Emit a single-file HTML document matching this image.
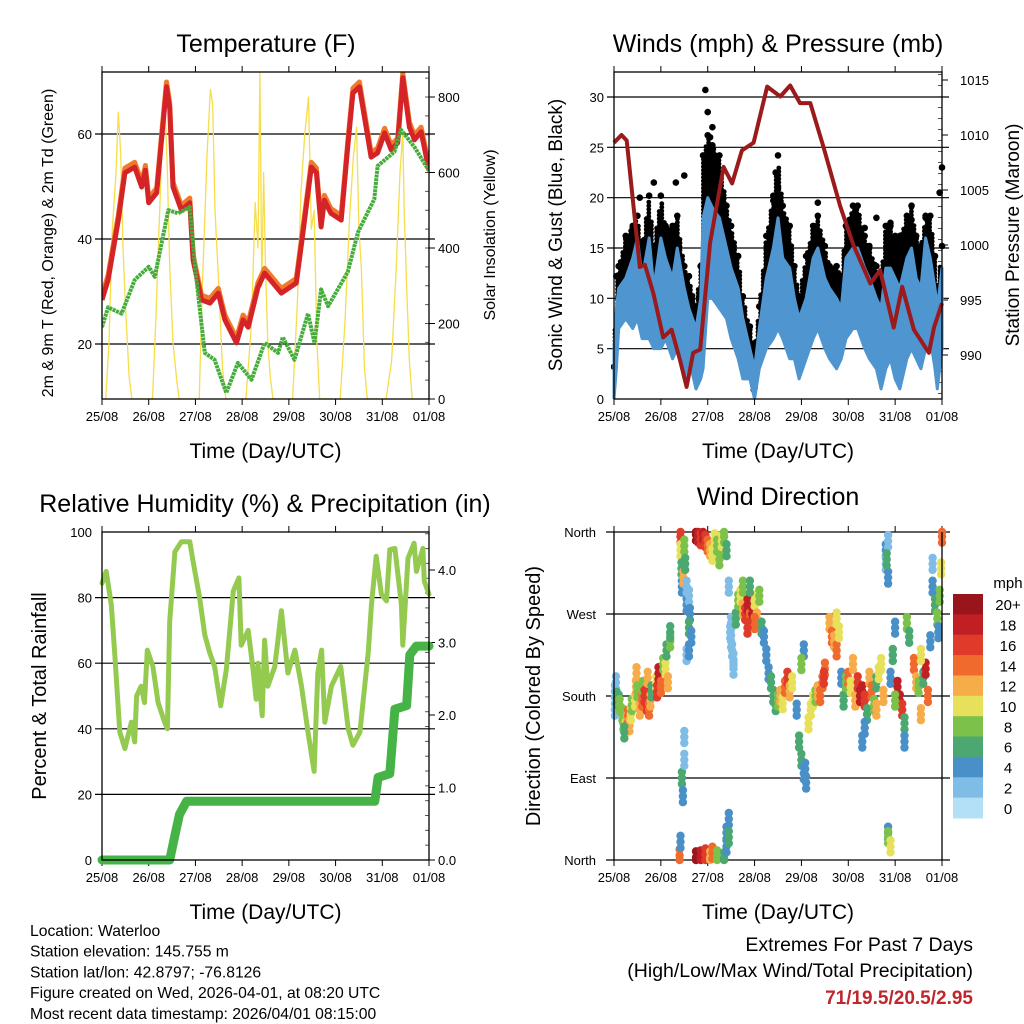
<!DOCTYPE html>
<html><head><meta charset="utf-8"><style>
html,body{margin:0;padding:0;background:#fff;}
svg{display:block;font-family:"Liberation Sans",Arial,sans-serif;}
</style></head><body>
<svg id="c" width="1024" height="1024" viewBox="0 0 1024 1024" xmlns="http://www.w3.org/2000/svg">
<rect width="1024" height="1024" fill="#fff"/>
</svg>
<script>
// ---------- data ----------
const dayLabels=['25/08','26/08','27/08','28/08','29/08','30/08','31/08','01/08'];
const tempT=[0,0.13,0.35,0.49,0.7,0.85,0.93,1.0,1.17,1.28,1.38,1.45,1.52,1.7,1.88,1.95,2.13,2.31,2.49,2.63,2.88,3.02,3.13,3.34,3.48,3.84,4.16,4.3,4.48,4.59,4.69,4.76,4.9,5.12,5.26,5.37,5.51,5.76,5.9,6.05,6.19,6.33,6.44,6.58,6.69,6.83,7.0];
const tempRed=[28.4,32.2,43.6,52.6,53.7,49.9,53.1,46.9,48.8,59.4,69,65,49.9,45.5,46.9,36,28.4,27.8,29.7,24.6,20.2,24.6,23.2,30.8,33.5,29.7,31.6,41.1,53.7,52.6,42.3,47.4,44.9,43.6,57.5,67.8,69,55.6,56.4,60.2,57,58.3,70.7,61.3,58.9,60.4,53.1];
const dewT=[0,0.13,0.42,0.7,1.0,1.13,1.42,1.63,1.88,1.99,2.2,2.41,2.66,2.91,3.2,3.48,3.77,3.87,4.12,4.41,4.55,4.69,4.84,5.26,5.48,5.83,5.9,6.26,6.4,6.69,7.0];
const dewV=[23.2,27,25.8,32.2,34.7,32.8,45.5,44.9,46.1,34.7,18.3,17,10.7,16.4,13.2,20.2,18.3,21.3,17,25.8,20.2,30.4,27.2,33.7,41.3,47.6,53.9,56.6,60.8,57.5,53];
const solarT=[0.08,0.15,0.22,0.3,0.35,0.4,0.45,0.5,0.58,0.64, 1.08,1.15,1.22,1.28,1.35,1.4,1.45,1.52,1.6,1.65, 2.08,2.15,2.25,2.32,2.37,2.42,2.5,2.58,2.65, 3.08,3.2,3.28,3.34,3.38,3.42,3.46,3.5,3.55,3.6,3.66, 4.08,4.18,4.26,4.34,4.42,4.48,4.54,4.6,4.66, 5.1,5.2,5.3,5.38,5.45,5.5,5.55,5.62,5.68, 6.08,6.2,6.3,6.38,6.44,6.47,6.52,6.58,6.64];
const solarV=[0,150,450,600,760,650,400,250,60,0, 0,200,450,650,770,600,350,150,50,0, 0,300,650,820,780,500,300,80,0, 0,200,520,400,866,300,600,350,150,60,0, 0,250,550,700,800,450,500,150,0, 0,200,480,640,720,450,350,80,0, 0,100,350,600,705,500,300,100,0];
const windT=[0,0.05,0.1,0.25,0.4,0.5,0.6,0.75,0.85,1.0,1.1,1.25,1.35,1.5,1.6,1.75,1.85,1.9,2.0,2.1,2.25,2.4,2.5,2.65,2.75,2.9,3.0,3.1,3.25,3.4,3.5,3.6,3.75,3.85,3.95,4.1,4.25,4.35,4.5,4.6,4.75,4.85,4.95,5.1,5.2,5.35,5.45,5.6,5.7,5.8,5.9,6.0,6.1,6.25,6.35,6.45,6.55,6.65,6.75,6.85,6.9,7.0];
const windLow=[0,3,7,8,7,8,6,6,5,5,6,4,5,2,4,1,2,3,10,10,9,8,6,4,2,2,0,3,5,6,7,6,4,4,2,4,6,7,5,4,3,4,6,7,7,5,4,3,1,3,4,2,1,4,5,4,3,5,6,3,1,5];
const windHigh=[5,9,11,12,14,16,12,16,11,16,14,12,15,11,9,7,10,18,20,19,18,15,13,11,8,5,3,7,12,15,18,14,13,10,8,10,14,15,12,11,10,9,14,15,15,13,12,10,9,13,13,12,11,14,15,12,11,16,14,11,9,13];
const gustHigh=[3,12,13,16,17,18,15,20,15,20,17,17,18,13,12,9,13,24,26,25,24,19,17,14,10,7,5,9,16,20,24,19,17,13,10,14,17,18,15,13,13,12,17,19,19,16,15,13,12,17,17,16,16,18,19,16,15,18,18,14,11,15];
const gustDotT=[1.95,2.0,2.1,2.05,0.55,0.85,1.5,1.32,3.45,3.5,3.4,4.35,5.35,5.6,5.9,6.35,6.65,6.95,7.0,0.4];
const gustDotV=[30.7,28.5,27,26,20,21.5,22.2,21.5,22.5,21,19.7,19.5,17,18,17.5,17.8,18,20.5,23,17];
const presT=[0,0.16,0.27,0.55,0.66,0.84,1.05,1.23,1.41,1.55,1.69,1.84,2.05,2.34,2.52,2.73,2.98,3.27,3.55,3.76,3.97,4.19,4.47,4.83,5.11,5.47,5.68,5.97,6.15,6.4,6.72,6.83,7.0];
const presV=[1009.3,1010,1009.5,998,998.2,995.6,991.6,992.3,989.5,987.1,990.2,990.5,1000.2,1007.1,1005.6,1008.6,1009.3,1014.4,1013.5,1014.5,1012.9,1012.9,1008.9,1003.5,1000,996.5,997.7,992.5,996.2,992.3,990.2,992.5,994.7];
const rhT=[0,0.09,0.2,0.27,0.38,0.49,0.63,0.7,0.74,0.84,0.91,0.97,1.09,1.2,1.34,1.4,1.45,1.56,1.7,1.88,1.95,2.09,2.2,2.3,2.41,2.54,2.66,2.81,2.93,2.98,3.13,3.23,3.3,3.34,3.43,3.48,3.55,3.7,3.84,3.98,4.13,4.27,4.41,4.54,4.62,4.7,4.77,4.91,5.11,5.27,5.37,5.52,5.7,5.77,5.87,5.98,6.09,6.16,6.27,6.41,6.44,6.55,6.68,6.73,6.87,6.9,7.0];
const rhV=[84.4,88,77.8,63.5,39,34,42,36,50,53,48,64,59,48,42,40,72.7,94,97,97,91,80,68.6,63.5,59,47,58,82,86,65.5,70,58.4,49,60,44,67,53,59,76,57,64,53,39,27,57,64,42,53,59,40,35,39,63.5,78,92.6,81,79,94.6,95,77.8,65.5,92,96.6,88,95,85,81];
const rainT=[0,1.45,1.56,1.66,1.81,5.84,5.91,6.16,6.27,6.52,6.59,6.73,7.0];
const rainV=[0,0,0.34,0.63,0.81,0.81,1.14,1.19,2.08,2.13,2.83,2.95,2.95];
const dirT=[0.02,0.02,0.04,0.06,0.1,0.12,0.18,0.2,0.25,0.28,0.3,0.33,0.36,0.38,0.22,0.45,0.47,0.48,0.5,0.55,0.6,0.62,0.65,0.7,0.72,0.75,0.78,0.8,0.9,0.92,0.95,1.0,1.05,1.1,1.12,1.15,1.2,1.2,
1.42,1.42,1.44,1.45,1.48,1.5,1.52,1.55,1.4,1.42,1.45,1.47,1.5,1.5,1.55,1.6,1.62,1.6,1.65,1.6,1.55,
1.75,1.8,1.85,1.9,1.95,2.0,2.05,2.1,2.15,2.2,2.25,2.3,2.35,2.4,1.75,1.85,1.95,2.05,2.1,2.2,2.35,2.4,2.4,2.45,2.45,
2.45,2.48,2.5,2.52,2.55,2.5,2.55,2.6,2.65,2.7,2.75,2.8,2.85,2.9,2.95,3.0,3.05,3.1,2.75,2.9,3.0,2.85,3.15,
3.2,3.25,3.3,3.35,3.4,3.45,3.5,3.55,3.6,3.65,3.7,3.75,3.8,3.9,3.95,4.0,4.05,4.08,4.1,4.05,4.0,
4.15,4.2,4.25,4.3,4.35,4.4,4.45,4.5,4.48,4.6,4.65,4.7,4.75,4.8,4.85,4.9,4.95,4.75,
5.0,5.05,5.1,5.15,5.2,5.25,5.3,5.35,5.4,5.35,5.3,5.45,5.5,5.55,5.6,5.65,5.7,5.75,5.6,
5.8,5.8,5.85,5.85,5.85,5.9,5.85,5.82,5.9,5.95,6.0,6.05,6.1,6.15,6.2,6.2,6.25,6.3,6.0,
6.4,6.45,6.5,6.55,6.6,6.65,6.7,6.55,6.75,6.8,6.8,6.85,6.9,6.92,6.95,6.98,7.0];
const dirV=[185,165,195,178,175,170,160,150,145,152,158,148,160,170,140,175,190,205,185,165,175,190,180,170,200,165,175,185,195,185,205,190,215,210,230,195,240,250,
355,340,320,300,310,345,325,280,5,20,90,70,110,135,225,290,270,255,245,230,300,
357,355,352,358,350,345,340,335,352,345,330,350,355,340,3,4,6,3,8,4,2,15,30,45,25,
300,250,240,230,220,260,210,265,285,290,275,270,280,265,270,285,265,290,300,300,260,255,255,
245,225,205,195,180,170,175,180,172,190,200,185,195,165,130,110,95,100,85,230,215,
150,165,175,180,185,180,195,210,200,260,245,240,230,250,200,175,195,265,
200,190,215,175,195,180,185,175,160,145,130,200,185,170,195,205,215,180,165,
340,325,310,30,25,15,350,330,200,225,255,190,175,165,150,130,260,245,175,
215,195,190,160,200,210,180,225,240,300,325,280,265,250,290,320,355];
const dirS=[3,3,2,6,7,8,8,9,11,12,14,13,10,8,7,10,12,13,8,12,14,8,16,16,12,14,12,7,10,16,18,14,8,10,7,12,8,6,
16,10,6,4,12,8,6,4,14,4,6,4,2,2,2,2,4,6,4,4,2,
20,18,16,18,16,14,12,10,10,8,8,10,8,6,20,18,16,12,14,8,6,4,4,4,6,
2,2,2,2,2,2,2,6,8,10,12,16,18,14,18,10,12,8,8,6,14,16,6,
4,4,4,6,6,6,8,12,10,14,16,12,10,4,6,6,4,4,4,4,8,
10,10,10,8,12,14,14,14,16,12,14,12,14,10,4,6,8,10,
14,10,12,12,16,18,18,16,6,4,4,12,14,8,6,10,10,12,12,
4,2,4,4,8,10,2,6,4,6,4,18,18,16,6,4,8,6,8,
14,12,8,12,6,18,14,10,4,4,2,6,8,4,8,10,14];
const cbLabels=['20+','18','16','14','12','10','8','6','4','2','0'];
const cbColors=['#98161b','#c01f24','#e03a2a','#f06a2e','#f7ac4a','#e6e05a','#7cc24a','#4aa870','#4a90c8','#7fbde6','#b3e0f7'];

// ---------- helpers ----------
const NS='http://www.w3.org/2000/svg';
const svg=document.getElementById('c');
function mk(tag,attrs,parent){const e=document.createElementNS(NS,tag);for(const k in attrs)e.setAttribute(k,attrs[k]);(parent||svg).appendChild(e);return e;}
function lin(d0,d1,r0,r1){return v=>r0+(v-d0)*(r1-r0)/(d1-d0);}
function interp(T,V,t){if(t<=T[0])return V[0];for(let i=1;i<T.length;i++){if(t<=T[i]){const f=(t-T[i-1])/(T[i]-T[i-1]);return V[i-1]+f*(V[i]-V[i-1]);}}return V[V.length-1];}
function txt(s,x,y,size,anchor,parent,extra){const t=mk('text',Object.assign({x:x,y:y,'font-size':size,'text-anchor':anchor||'middle',fill:'#000'},extra||{}),parent);t.textContent=s;return t;}
function ptsOf(T,V,sx,sy){return T.map((t,i)=>sx(t).toFixed(1)+','+sy(V[i]).toFixed(1)).join(' ');}

function frame(name,x0,x1,y0,y1){
  const g=mk('g',{});
  
  
  const sx=lin(0,7,x0,x1);
  for(let d=0;d<=7;d++){
    const x=sx(d);
    mk('line',{x1:x,y1:y0-6,x2:x,y2:y0,stroke:'#000','stroke-width':1},g);
    mk('line',{x1:x,y1:y1,x2:x,y2:y1+6,stroke:'#000','stroke-width':1},g);
    const t=txt(dayLabels[d],x,y1+22,13,'middle',g);
    
    
  }
  const at=txt('Time (Day/UTC)',(x0+x1)/2,y1+59,21,'middle',g);
  
  
  return {g,sx};
}
function border(g,x0,x1,y0,y1){mk('rect',{x:x0,y:y0,width:x1-x0,height:y1-y0,fill:'none',stroke:'#000','stroke-width':1.3},g);}
function grid(g,y,xa,xb){mk('line',{x1:xa,y1:y,x2:xb,y2:y,stroke:'#000','stroke-width':1.2},g);}
function minorRight(g,x,ya,yb,n){for(let i=0;i<=n;i++){const y=ya+(yb-ya)*i/n;mk('line',{x1:x-4,y1:y,x2:x,y2:y,stroke:'#555','stroke-width':1},g);}}
function vtitle(s,x,y,size,g,name){const t=txt(s,x,y,size,'middle',g,{transform:'rotate(-90 '+x+' '+y+')'});return t;}
function title(s,x,y,g,name){const t=txt(s,x,y,25,'middle',g);}

// ---------- Panel 1: temperature ----------
(function(){
  const X0=102,X1=429,Y0=72,Y1=399;
  const {g,sx}=frame('temperature-panel',X0,X1,Y0,Y1);
  const sy=lin(60,20,134,344);
  const ss=lin(0,800,399,97);
  title('Temperature (F)',266,52,g,'temperature-title');
  [20,40,60].forEach(v=>{grid(g,sy(v),95,435);const t=txt(String(v),92,sy(v)+5,13,'end',g);});
  [0,200,400,600,800].forEach(v=>{const t=txt(String(v),438,ss(v)+5,13,'start',g);mk('line',{x1:429,y1:ss(v),x2:435,y2:ss(v),stroke:'#000'},g);});
  minorRight(g,X1,Y1,ss(850),17);
  const clip=mk('clipPath',{id:'cp1'},g);mk('rect',{x:X0,y:Y0,width:X1-X0,height:Y1-Y0},clip);
  const pg=mk('g',{'clip-path':'url(#cp1)'},g);
  const sol=mk('polyline',{points:ptsOf(solarT,solarV,sx,ss),fill:'none',stroke:'#f7dd4a','stroke-width':1.3,'stroke-linejoin':'round'},pg);
  
  
  const og=mk('polyline',{points:ptsOf(tempT,tempRed.map(v=>v+0.9),sx,sy),fill:'none',stroke:'#f07a2a','stroke-width':5,'stroke-linejoin':'round'},pg);
  
  
  const rd=mk('polyline',{points:ptsOf(tempT,tempRed,sx,sy),fill:'none',stroke:'#d42428','stroke-width':5,'stroke-linejoin':'round'},pg);
  
  
  const gr=mk('polyline',{points:ptsOf(dewT,dewV,sx,sy),fill:'none',stroke:'#46ad3c','stroke-width':4,'stroke-dasharray':'3 0.7','stroke-linejoin':'round'},pg);
  
  
  border(g,X0,X1,Y0,Y1);
  vtitle('2m & 9m T (Red, Orange) & 2m Td (Green)',53,243,16,g,'left-y-axis-title');
  vtitle('Solar Insolation (Yellow)',495,235,16,g,'right-y-axis-title');
})();

// ---------- Panel 2: winds ----------
(function(){
  const X0=614,X1=942,Y0=72,Y1=399;
  const {g,sx}=frame('winds-panel',X0,X1,Y0,Y1);
  const sy=lin(0,30,399,97);
  const sp=lin(990,1015,355,80);
  title('Winds (mph) & Pressure (mb)',778,52,g,'winds-title');
  [0,5,10,15,20,25,30].forEach(v=>{if(v>0)grid(g,sy(v),607,949);const t=txt(String(v),604,sy(v)+5,13,'end',g);});
  [990,995,1000,1005,1010,1015].forEach(v=>{const t=txt(String(v),960,sp(v)+5,13,'start',g);mk('line',{x1:942,y1:sp(v),x2:948,y2:sp(v),stroke:'#000'},g);});
  minorRight(g,X1,sp(986.5),sp(1015.5),29);
  const clip=mk('clipPath',{id:'cp2'},g);mk('rect',{x:X0-3,y:Y0-4,width:X1-X0+7,height:Y1-Y0+4},clip);
  const pg=mk('g',{'clip-path':'url(#cp2)'},g);
  const dots=mk('g',{fill:'#000'},pg);
  
  
  let col=0;
  for(let x=X0+1;x<=X1;x+=2.6){
    const d=(x-X0)/(X1-X0)*7;
    const gu=interp(windT,gustHigh,d), lo=interp(windT,windLow,d), hi=interp(windT,windHigh,d);
    const ya=sy(gu), yb=sy(Math.max(lo,hi-3));
    for(let y=ya+(col%2)*2;y<=yb;y+=3.6){mk('circle',{cx:x.toFixed(1),cy:y.toFixed(1),r:2.4},dots);}
    col++;
  }
  windT.forEach((t,i)=>{const c=mk('circle',{cx:sx(t),cy:sy(gustHigh[i])-2,r:3.3,fill:'#000'},pg);});
  gustDotT.forEach((t,i)=>{const c=mk('circle',{cx:sx(t),cy:sy(gustDotV[i]),r:3.3,fill:'#000'},pg);});
  const windPts=windT.map((t,i)=>sx(t)+','+sy(windHigh[i])).join(' ')+' '+windT.slice().reverse().map((t,j)=>{const i=windT.length-1-j;return sx(t)+','+sy(windLow[i]);}).join(' ');
  const wp=mk('polygon',{points:windPts,fill:'#4f95d0',stroke:'#4f95d0','stroke-width':3,'stroke-linejoin':'round'},pg);
  
  
  const pl=mk('polyline',{points:ptsOf(presT,presV,sx,sp),fill:'none',stroke:'#9b1a1c','stroke-width':4,'stroke-linejoin':'round'},pg);
  
  
  border(g,X0,X1,Y0,Y1);
  vtitle('Sonic Wind & Gust (Blue, Black)',562,235,19,g,'left-y-axis-title');
  vtitle('Station Pressure (Maroon)',1019,235,19,g,'right-y-axis-title');
})();

// ---------- Panel 3: RH & precip ----------
(function(){
  const X0=102,X1=429,Y0=532,Y1=860;
  const {g,sx}=frame('humidity-panel',X0,X1,Y0,Y1);
  const sy=lin(0,100,860,532);
  const sr=lin(0,4,860,570);
  title('Relative Humidity (%) & Precipitation (in)',265,512,g,'humidity-title');
  [0,20,40,60,80,100].forEach(v=>{if(v>0&&v<100)grid(g,sy(v),95,435);const t=txt(String(v),92,sy(v)+5,13,'end',g);});
  ['0.0','1.0','2.0','3.0','4.0'].forEach((s,i)=>{const t=txt(s,438,sr(i)+5,13,'start',g);mk('line',{x1:429,y1:sr(i),x2:435,y2:sr(i),stroke:'#000'},g);});
  minorRight(g,X1,sr(0),sr(4.5),22);
  const clip=mk('clipPath',{id:'cp3'},g);mk('rect',{x:X0-6,y:Y0,width:X1-X0+12,height:Y1-Y0+6},clip);
  const pg=mk('g',{'clip-path':'url(#cp3)'},g);
  const rh=mk('polyline',{points:ptsOf(rhT,rhV,sx,sy),fill:'none',stroke:'#94ca50','stroke-width':5,'stroke-linejoin':'round','stroke-linecap':'round'},pg);
  
  
  const rn=mk('polyline',{points:ptsOf(rainT,rainV,sx,sr),fill:'none',stroke:'#46b346','stroke-width':9,'stroke-linejoin':'round','stroke-linecap':'round'},pg);
  
  
  border(g,X0,X1,Y0,Y1);
  vtitle('Percent & Total Rainfall',46,696,20,g,'left-y-axis-title');
})();

// ---------- Panel 4: wind direction ----------
(function(){
  const X0=614,X1=942,Y0=532,Y1=860;
  const {g,sx}=frame('wind-direction-panel',X0,X1,Y0,Y1);
  const sy=lin(0,360,860,532);
  title('Wind Direction',778,505,g,'wind-direction-title');
  const names=['North','East','South','West','North'];
  names.forEach((s,i)=>{grid(g,sy(i*90),606,950);const t=txt(s,596,sy(i*90)+5,13,'end',g);});
  const pg=mk('g',{},g);
  dirT.forEach((t,i)=>{
    const ci=10-Math.min(10,Math.floor(dirS[i]/2));
    const cy=sy(dirV[i]);
    [-6,0,6].forEach(off=>{
      const yy=Math.min(Y1,Math.max(Y0,cy+off));
      const c=mk('circle',{cx:sx(t).toFixed(1),cy:yy.toFixed(1),r:4.2,fill:cbColors[ci]},pg);
      
      
    });
  });
  mk('line',{x1:X0,y1:Y0,x2:X0,y2:Y1,stroke:'#000','stroke-width':1.3},g);
  mk('line',{x1:X1,y1:Y0,x2:X1,y2:Y1,stroke:'#000','stroke-width':1.3},g);
  vtitle('Direction (Colored By Speed)',540,696,20,g,'left-y-axis-title');
  const lg=mk('g',{},g);
  
  
  txt('mph',1008,588,15,'middle',lg);
  const h=224/11;
  cbLabels.forEach((s,i)=>{
    const r=mk('rect',{x:953,y:594+i*h,width:30,height:h+0.5,fill:cbColors[i]},lg);
    
    
    const t=txt(s,1008,594+i*h+h/2+6,15,'middle',lg);
    
    
  });
})();

// ---------- footer ----------
(function(){
  const g=mk('g',{});
  
  
  const lines=['Location: Waterloo','Station elevation: 145.755 m','Station lat/lon: 42.8797; -76.8126','Figure created on Wed, 2026-04-01, at 08:20 UTC','Most recent data timestamp: 2026/04/01 08:15:00'];
  lines.forEach((s,i)=>txt(s,30,936+i*20.7,15.7,'start',g));
  const e=mk('g',{});
  
  
  txt('Extremes For Past 7 Days',973,951,19.5,'end',e);
  txt('(High/Low/Max Wind/Total Precipitation)',973,977,19.5,'end',e);
  txt('71/19.5/20.5/2.95',973,1004,19,'end',e,{fill:'#c0272d','font-weight':'bold'});
})();
</script>
</body></html>
